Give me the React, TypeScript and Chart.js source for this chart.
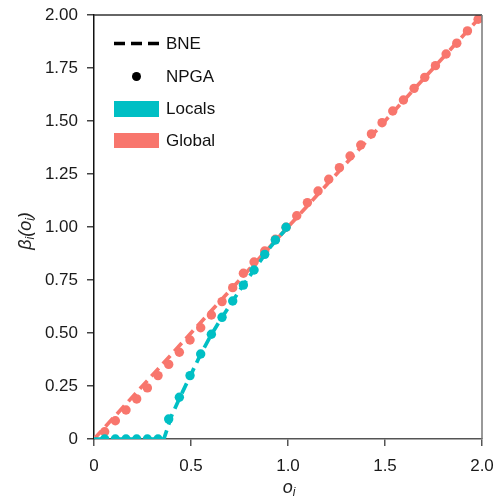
import React, { useEffect, useRef } from "react";
import { Chart, registerables } from "chart.js";

Chart.register(...registerables);

// NPGA sample points (o_i)
const npgaX = [0.055, 0.11, 0.165, 0.22, 0.275, 0.33, 0.385, 0.44, 0.495, 0.55, 0.605, 0.66, 0.715, 0.77, 0.825, 0.88, 0.935, 0.99, 1.045, 1.1, 1.155, 1.21, 1.265, 1.32, 1.375, 1.43, 1.485, 1.54, 1.595, 1.65, 1.705, 1.76, 1.815, 1.87, 1.925, 1.98];
const npgaGlobal = [0.034, 0.086, 0.137, 0.189, 0.241, 0.299, 0.352, 0.409, 0.467, 0.525, 0.585, 0.648, 0.714, 0.782, 0.835, 0.887, 0.942, 0.999, 1.053, 1.115, 1.17, 1.225, 1.28, 1.335, 1.387, 1.439, 1.492, 1.547, 1.599, 1.654, 1.706, 1.761, 1.816, 1.867, 1.925, 1.98];
const npgaLocal = [0, 0, 0, 0, 0, 0, 0.094, 0.197, 0.299, 0.401, 0.494, 0.574, 0.651, 0.726, 0.797, 0.871, 0.939, 0.999];

// BNE curves
const bneGlobalX = [0, 2];
const bneGlobalY = [0, 2];
const bneLocalX = [0, 0.36, 0.4, 0.45, 0.5, 0.55, 0.6, 0.65, 0.7, 0.75, 0.8, 0.85, 0.9, 0.95, 1.0];
const bneLocalY = [0, 0, 0.11, 0.21, 0.305, 0.4, 0.485, 0.56, 0.63, 0.7, 0.765, 0.83, 0.895, 0.95, 1.0];

const xTicks = [0, 0.5, 1.0, 1.5, 2.0];
const yTicks = [0, 0.25, 0.5, 0.75, 1.0, 1.25, 1.5, 1.75, 2.0];

const TEAL = "#00BFC4";
const RED = "#F8766D";
const FONT = "'Liberation Sans', Arial, Helvetica, sans-serif";

const pts = (xs: number[], ys: number[]) => ys.map((y, i) => ({ x: xs[i], y }));

const extrasPlugin = {
  id: "extras",
  afterDraw(chart: any) {
    const { ctx, chartArea } = chart;
    const { left, right, top, bottom } = chartArea;
    ctx.save();
    // frame top & right
    ctx.lineWidth = 1.5;
    ctx.strokeStyle = "#333";
    ctx.beginPath();
    ctx.moveTo(left, top);
    ctx.lineTo(right, top);
    ctx.stroke();
    ctx.strokeStyle = "#777";
    ctx.beginPath();
    ctx.moveTo(right, top);
    ctx.lineTo(right, bottom);
    ctx.stroke();

    // legend
    const lx0 = 114, lx1 = 159, tx = 166;
    ctx.font = `17px ${FONT}`;
    ctx.textBaseline = "middle";
    ctx.textAlign = "left";
    ctx.fillStyle = "#111";
    ctx.strokeStyle = "#000";
    ctx.lineWidth = 3.5;
    ctx.setLineDash([11, 6]);
    ctx.beginPath();
    ctx.moveTo(lx0, 43.5);
    ctx.lineTo(lx1, 43.5);
    ctx.stroke();
    ctx.setLineDash([]);
    ctx.fillText("BNE", tx, 44);
    ctx.beginPath();
    ctx.arc(136.5, 76.5, 4.5, 0, Math.PI * 2);
    ctx.fillStyle = "#000";
    ctx.fill();
    ctx.fillStyle = "#111";
    ctx.fillText("NPGA", tx, 77);
    ctx.fillStyle = TEAL;
    ctx.fillRect(lx0, 101, lx1 - lx0, 16);
    ctx.fillStyle = "#111";
    ctx.fillText("Locals", tx, 109);
    ctx.fillStyle = RED;
    ctx.fillRect(lx0, 133, lx1 - lx0, 15);
    ctx.fillStyle = "#111";
    ctx.fillText("Global", tx, 141);

    // axis titles
    ctx.fillStyle = "#222";
    ctx.textBaseline = "alphabetic";
    const drawRich = (parts: { t: string; sub?: boolean }[], cx: number, cy: number) => {
      const big = `italic 18px ${FONT}`;
      const small = `italic 12px ${FONT}`;
      let w = 0;
      for (const p of parts) {
        ctx.font = p.sub ? small : big;
        w += ctx.measureText(p.t).width;
      }
      let x = cx - w / 2;
      for (const p of parts) {
        ctx.font = p.sub ? small : big;
        ctx.fillText(p.t, x, p.sub ? cy + 9 : cy + 6);
        x += ctx.measureText(p.t).width;
      }
    };
    drawRich([{ t: "o" }, { t: "i", sub: true }], 289, 487);

    ctx.save();
    ctx.translate(25, 231);
    ctx.rotate(-Math.PI / 2);
    drawRich([{ t: "β" }, { t: "i", sub: true }, { t: "(o" }, { t: "i", sub: true }, { t: ")" }], 0, 0);
    ctx.restore();

    ctx.restore();
  },
};

export default function App() {
  const ref = useRef<HTMLCanvasElement | null>(null);
  useEffect(() => {
    if (!ref.current) return;
    const lineDash = [11, 6];
    const chart = new Chart(ref.current, {
      type: "scatter",
      data: {
        datasets: [
          {
            label: "Locals NPGA",
            data: pts(npgaX, npgaLocal),
            backgroundColor: TEAL,
            pointRadius: 4.7,
            borderWidth: 0,
            showLine: false,
            order: 0,
          },
          {
            label: "Global NPGA",
            data: pts(npgaX, npgaGlobal),
            backgroundColor: RED,
            pointRadius: 4.7,
            borderWidth: 0,
            showLine: false,
            order: 1,
          },
          {
            label: "Locals BNE",
            data: pts(bneLocalX, bneLocalY),
            borderColor: TEAL,
            borderWidth: 3.7,
            borderDash: lineDash,
            pointRadius: 0,
            showLine: true,
            order: 2,
          },
          {
            label: "Global BNE",
            data: pts(bneGlobalX, bneGlobalY),
            borderColor: RED,
            borderWidth: 3.7,
            borderDash: lineDash,
            pointRadius: 0,
            showLine: true,
            order: 3,
          },
        ],
      },
      options: {
        animation: false,
        responsive: false,
        devicePixelRatio: 1,
        layout: { padding: { top: 15, right: 17, left: 0, bottom: 0 } },
        plugins: { legend: { display: false }, tooltip: { enabled: false } },
        scales: {
          x: {
            type: "linear",
            min: 0,
            max: 2,
            afterBuildTicks: (s: any) => {
              s.ticks = xTicks.map((v) => ({ value: v }));
            },
            afterFit: (s: any) => {
              s.height = 60;
              s.paddingLeft = 0;
              s.paddingRight = 0;
            },
            ticks: {
              padding: 10,
              color: "#1a1a1a",
              font: { family: FONT, size: 17 },
              callback: (v: any) => (Number(v) === 0 ? "0" : Number(v).toFixed(1)),
            },
            grid: { drawOnChartArea: false, drawTicks: true, tickLength: 7, color: "#555", lineWidth: 1.5 },
            border: { display: true, color: "#555", width: 1.5 },
          },
          y: {
            type: "linear",
            min: 0,
            max: 2,
            afterBuildTicks: (s: any) => {
              s.ticks = yTicks.map((v) => ({ value: v }));
            },
            afterFit: (s: any) => {
              s.width = 94;
              s.paddingTop = 0;
              s.paddingBottom = 0;
            },
            ticks: {
              padding: 9,
              color: "#1a1a1a",
              font: { family: FONT, size: 17 },
              callback: (v: any) => (Number(v) === 0 ? "0" : Number(v).toFixed(2)),
            },
            grid: { drawOnChartArea: false, drawTicks: true, tickLength: 7, color: "#444", lineWidth: 1.5 },
            border: { display: true, color: "#111", width: 1.5 },
          },
        },
      },
      plugins: [extrasPlugin],
    } as any);
    return () => chart.destroy();
  }, []);
  return (
    <div style={{ position: "absolute", left: 0, top: 0, width: 499, height: 499, background: "#fff" }}>
      <canvas ref={ref} width={499} height={499} style={{ display: "block", width: 499, height: 499 }} />
    </div>
  );
}
